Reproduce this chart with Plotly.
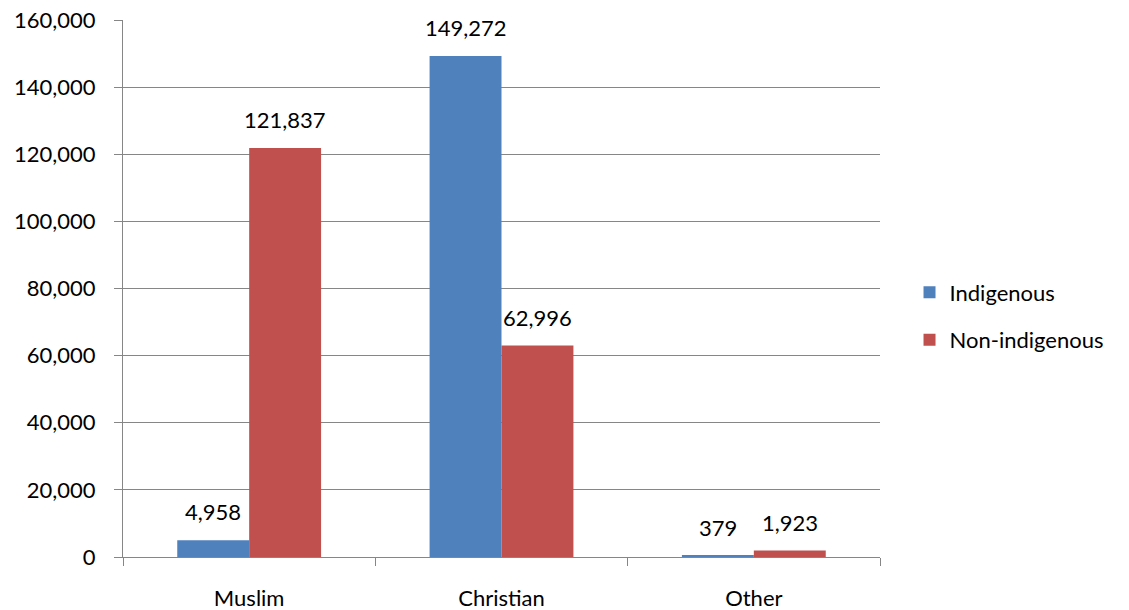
import plotly.graph_objects as go

categories = ["Muslim", "Christian", "Other"]
indigenous = [4958, 149272, 379]
non_indigenous = [121837, 62996, 1923]
y_ticks = [0, 20000, 40000, 60000, 80000, 100000, 120000, 140000, 160000]

FONT = "Lato, Calibri, Carlito, sans-serif"
GRID = "#868686"
SIZE = 22

fig = go.Figure()
fig.add_trace(go.Bar(
    name="Indigenous", x=categories, y=indigenous,
    marker=dict(color="#4F81BD", line=dict(width=0)),
    legendgroup="a",
))
fig.add_trace(go.Bar(
    name="Non-indigenous", x=categories, y=non_indigenous,
    marker=dict(color="#C0504D", line=dict(width=0)),
    legendgroup="b",
))

# data labels above each bar (half a bar width offset left/right)
half = 36
for series, shift in ((indigenous, -half), (non_indigenous, half)):
    for cat, v in zip(categories, series):
        fig.add_annotation(
            x=cat, y=v, text=f"{v:,}", showarrow=False,
            xanchor="center", yanchor="bottom", xshift=shift, yshift=13,
            font=dict(size=SIZE, color="black", family=FONT),
        )

fig.update_layout(
    width=1129, height=610,
    margin=dict(l=123, r=249, t=20, b=53, autoexpand=False),
    paper_bgcolor="white", plot_bgcolor="white",
    barmode="group", bargap=0.43, bargroupgap=0,
    font=dict(family=FONT, size=SIZE, color="black"),
    legend=dict(x=1.039, y=0.448, xanchor="left", yanchor="middle",
                font=dict(size=SIZE), tracegroupgap=16, itemsizing="constant"),
)
fig.update_xaxes(
    showline=True, linecolor=GRID, linewidth=1, automargin=False,
    ticks="outside", tickson="boundaries", ticklen=8, tickcolor=GRID,
    showgrid=False, tickfont=dict(size=SIZE), ticklabelstandoff=22,
)
fig.update_yaxes(
    range=[0, 160000], tickvals=y_ticks, automargin=False,
    tickformat=",d", showgrid=True, gridcolor=GRID, gridwidth=1,
    showline=True, linecolor=GRID, linewidth=1,
    ticks="outside", ticklen=8, tickcolor=GRID,
    zeroline=False, tickfont=dict(size=SIZE), ticklabelstandoff=14,
)

fig.write_html(
    "out.html",
    config={"displayModeBar": False},
    post_script="document.body.style.margin='0';document.body.style.overflow='hidden';",
)
